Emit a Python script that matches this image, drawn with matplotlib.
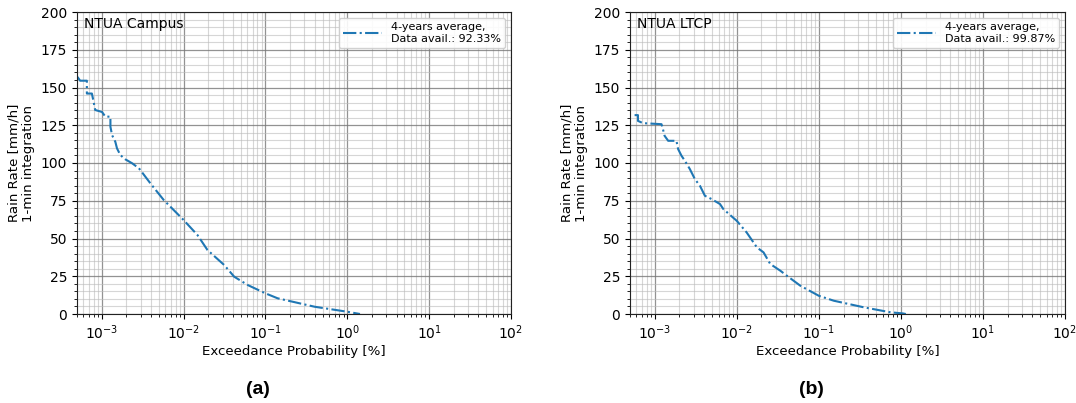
import numpy as np
import matplotlib
matplotlib.use("Agg")
import matplotlib.pyplot as plt
from matplotlib.ticker import MultipleLocator, LogLocator, NullFormatter

# NTUA Campus: exceedance probability [%] vs rain rate [mm/h]
campus_p = [5.07e-4, 5.46e-4, 6.6e-4, 6.6e-4, 7.6e-4, 7.97e-4, 8.34e-4, 1.01e-3, 1.11e-3,
            1.28e-3, 1.28e-3, 1.34e-3, 1.47e-3, 1.54e-3, 1.69e-3, 1.95e-3, 2.36e-3,
            2.85e-3, 2.96e-3, 3.93e-3, 5.73e-3, 1.0e-2, 1.48e-2, 1.96e-2, 3.13e-2,
            4.16e-2, 6.08e-2, 1.0e-1, 1.41e-1, 4.0e-1, 1.0, 1.43]
campus_r = [157.0, 154.5, 154.5, 146.0, 146.0, 140.6, 135.1, 133.8, 130.7,
            130.7, 124.0, 118.5, 114.0, 109.7, 105.3, 102.4, 99.8,
            96.5, 95.4, 86.6, 75.5, 62.3, 52.3, 42.4, 32.5,
            24.7, 19.2, 13.7, 10.4, 4.8, 1.5, 0.0]

# NTUA LTCP
ltcp_p = [5.69e-4, 6.25e-4, 6.25e-4, 7.19e-4, 1.21e-3, 1.26e-3, 1.32e-3, 1.46e-3, 1.84e-3,
          1.93e-3, 2.12e-3, 2.33e-3, 2.68e-3, 3.09e-3, 3.56e-3, 4.09e-3, 4.94e-3,
          6.25e-3, 6.86e-3, 1.0e-2, 1.32e-2, 1.76e-2, 2.12e-2, 2.56e-2, 3.39e-2,
          4.09e-2, 5.96e-2, 9.97e-2, 1.52e-1, 3.55e-1, 7.52e-1, 1.05, 1.15]
ltcp_r = [131.7, 131.7, 127.9, 126.4, 125.7, 122.4, 118.0, 114.7, 114.7,
          109.2, 104.8, 101.5, 96.0, 89.3, 84.9, 78.3, 76.1,
          72.8, 69.5, 61.7, 54.0, 44.1, 40.8, 33.1, 28.7,
          25.3, 18.7, 12.1, 8.8, 4.4, 1.1, 0.4, 0.0]

panels = [
    ("NTUA Campus", "4-years average,\nData avail.: 92.33%", campus_p, campus_r, "(a)"),
    ("NTUA LTCP", "4-years average,\nData avail.: 99.87%", ltcp_p, ltcp_r, "(b)"),
]

W, H = 1076, 403
fig = plt.figure(figsize=(W / 100, H / 100), dpi=100)
lefts = [77, 630]
rights = [511, 1065]
top, bottom = 12, 314

for (name, leg, p, r, tag), l, rt in zip(panels, lefts, rights):
    ax = fig.add_axes([l / W, 1 - bottom / H, (rt - l) / W, (bottom - top) / H])
    ax.plot(p, r, linestyle='-.', color='#1f77b4', linewidth=1.5, label=leg)
    ax.set_xscale('log')
    ax.set_xlim(5e-4, 100)
    ax.set_ylim(0, 200)
    ax.yaxis.set_major_locator(MultipleLocator(25))
    ax.yaxis.set_minor_locator(MultipleLocator(5))
    ax.xaxis.set_major_locator(LogLocator(base=10, numticks=12))
    ax.xaxis.set_minor_locator(LogLocator(base=10, subs=np.arange(2, 10), numticks=12))
    ax.xaxis.set_minor_formatter(NullFormatter())
    ax.grid(True, which='major', color='#777777', linewidth=0.9, alpha=0.8)
    ax.grid(True, which='minor', color='#bbbbbb', linewidth=0.8, alpha=0.6)
    ax.tick_params(labelsize=10)
    ax.set_xlabel("Exceedance Probability [%]", fontsize=9.6, labelpad=2)
    ax.set_ylabel("Rain Rate [mm/h]\n1-min integration", fontsize=9.6)
    ax.text(0.015, 0.985, name, transform=ax.transAxes, ha='left', va='top', fontsize=10)
    ax.legend(loc='upper right', fontsize=8, handlelength=3.5, framealpha=0.9)
    for sp in ax.spines.values():
        sp.set_color('#222222')
    xc = ((l + rt) / 2 - 36) / W
    fig.text(xc, 1 - 390 / H, tag, ha='center', va='center', fontsize=14,
             fontweight='bold', family='Liberation Sans')

fig.savefig("out.png", dpi=100)
